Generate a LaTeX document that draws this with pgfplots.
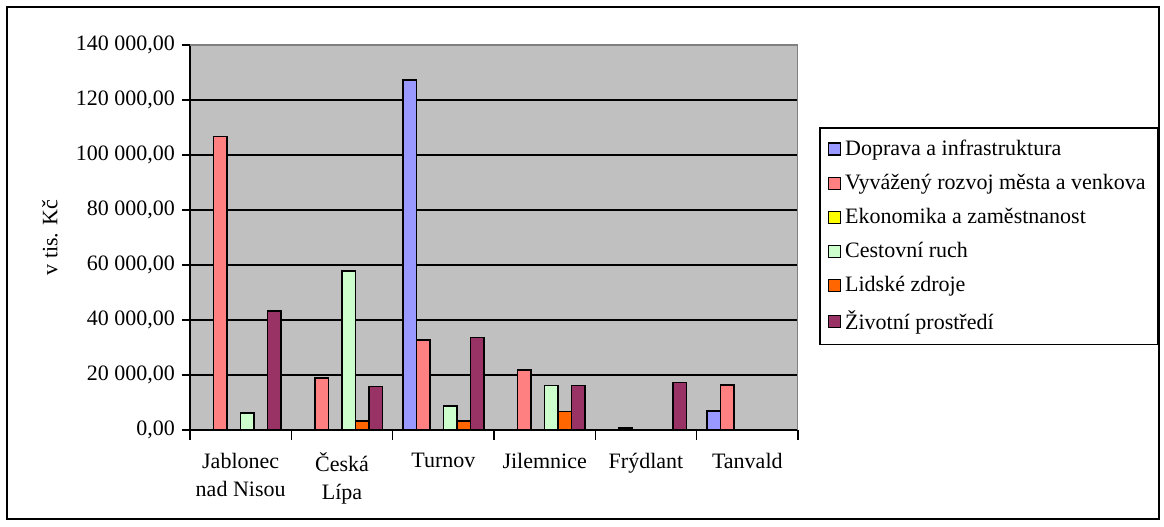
\documentclass[border=0pt]{standalone}
\usepackage{fontspec}
\setmainfont{Liberation Serif}
\usepackage{pgfplots}
\pgfplotsset{compat=1.18}

\definecolor{doprava}{HTML}{9999FF}
\definecolor{rozvoj}{HTML}{FF8080}
\definecolor{ekonom}{HTML}{FFFF00}
\definecolor{cestov}{HTML}{CCFFCC}
\definecolor{lidske}{HTML}{FF6600}
\definecolor{zivot}{HTML}{993366}
\definecolor{plotgray}{HTML}{C0C0C0}

\begin{document}
\begin{tikzpicture}
\useasboundingbox (0,0) rectangle (582pt,263pt);
\draw[line width=0.8pt] (3.5pt,3.5pt) rectangle (579.5pt,259.5pt);
\begin{axis}[
    at={(95pt,48pt)}, anchor=south west,
    scale only axis,
    width=304pt, height=192.5pt,
    axis background/.style={fill=plotgray},
    axis lines*=left,
    axis line style={line width=0.7pt},
    ymin=0, ymax=140000,
    ytick distance=20000,
    scaled y ticks=false,
    ymajorgrids,
    major grid style={black, line width=0.6pt},
    xmin=-0.5, xmax=5.5,
    xtick={0,...,5},
    xticklabels={{Jablonec\\nad Nisou},{Česká\\Lípa},Turnov,Jilemnice,Frýdlant,Tanvald},
    minor xtick={-0.5,0.5,...,5.5},
    major x tick style={draw=none},
    minor tick length=5pt,
    major tick length=4pt,
    tick align=outside,
    tick style={black, line width=0.6pt},
    xticklabel style={align=center, font=\fontsize{11}{14}\selectfont, yshift=-4pt},
    yticklabel style={font=\fontsize{11}{13}\selectfont},
    /pgf/number format/assume math mode=true,
    yticklabel={\pgfmathprintnumber[fixed, precision=2, zerofill, use comma, 1000 sep={\ }]{\tick}},
    ylabel={v tis. Kč},
    every axis y label/.style={at={(axis description cs:0,0.5)}, xshift=-70pt, rotate=90, anchor=center, font=\fontsize{11}{13}\selectfont},
    bar width=0.1333,
    every axis plot/.append style={ybar, draw=black, line width=0.75pt},
    legend image code/.code={\draw[#1, line width=0.7pt] (0pt,-3pt) rectangle (6pt,3pt);},
    legend style={
        at={(axis description cs:1.0345,0.787)}, anchor=north west,
        draw=black, line width=0.8pt,
        font=\fontsize{11}{13}\selectfont,
        row sep=3.9pt, inner sep=4pt,
        cells={anchor=west},
    },
]
\addplot[fill=doprava, bar shift=-0.3333] coordinates {
    (2,127300) (5,6900)
};
\addlegendentry{Doprava a infrastruktura}
\addplot[fill=rozvoj, bar shift=-0.2] coordinates {
    (0,106700) (1,19000) (2,32700) (3,21800) (4,700) (5,16400)
};
\addlegendentry{Vyvážený rozvoj města a venkova}
\addlegendimage{ybar, fill=ekonom, draw=black}
\addlegendentry{Ekonomika a zaměstnanost}
\addplot[fill=cestov, bar shift=0.0667] coordinates {
    (0,6100) (1,57800) (2,8700) (3,16200)
};
\addlegendentry{Cestovní ruch}
\addplot[fill=lidske, bar shift=0.2] coordinates {
    (1,3300) (2,3300) (3,6700)
};
\addlegendentry{Lidské zdroje}
\addplot[fill=zivot, bar shift=0.3333] coordinates {
    (0,43300) (1,15800) (2,33600) (3,16200) (4,17200)
};
\addlegendentry{Životní prostředí}
\draw[gray, line width=0.7pt] (rel axis cs:0,1) -- (rel axis cs:1,1) -- (rel axis cs:1,0);
\end{axis}
\end{tikzpicture}
\end{document}
